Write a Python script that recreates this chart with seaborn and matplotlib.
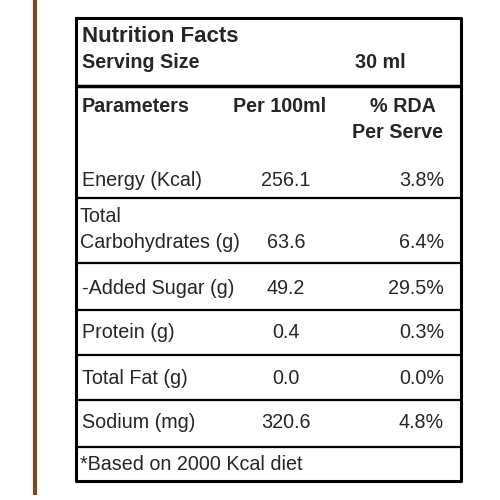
import matplotlib
matplotlib.use("Agg")
import matplotlib.pyplot as plt
import seaborn as sns

sns.set_style("white")
plt.rcParams['font.family'] = ['Liberation Sans', 'DejaVu Sans']

# 表格数据
params = ["Energy (Kcal)", "Total\nCarbohydrates (g)", "-Added Sugar (g)",
          "Protein (g)", "Total Fat (g)", "Sodium (mg)"]
per_100ml = ["256.1", "63.6", "49.2", "0.4", "0.0", "320.6"]
rda_per_serve = ["3.8%", "6.4%", "29.5%", "0.3%", "0.0%", "4.8%"]
row_y = [180, 242, 289, 332, 378, 422]
sep_y = [198, 263, 310, 355, 400, 447]

fig = plt.figure(figsize=(5, 5), dpi=100)
ax = fig.add_axes([0, 0, 1, 1])
ax.set_xlim(0, 500)
ax.set_ylim(500, 0)
ax.axis("off")

# 左侧棕色竖线
ax.vlines(35, 0, 495, color="#7a4a1e", lw=3)

# 外框
ax.plot([76, 461, 461, 76, 76], [18, 18, 481, 481, 18], color="black", lw=2.2)
ax.hlines(86, 76, 461, color="black", lw=2.5)
for y in sep_y:
    ax.hlines(y, 76, 461, color="black", lw=1.6)

fs = 14.2
ax.text(82, 36, "Nutrition Facts", fontsize=16, weight="bold", va="center")
ax.text(82, 62, "Serving Size", fontsize=fs, weight="bold", va="center")
ax.text(355, 62, "30 ml", fontsize=fs, weight="bold", va="center")
ax.text(82, 107, "Parameters", fontsize=fs, weight="bold", va="center")
ax.text(280, 107, "Per 100ml", fontsize=fs, weight="bold", va="center", ha="center")
ax.text(403, 107, "% RDA", fontsize=fs, weight="bold", va="center", ha="center")
ax.text(398, 133, "Per Serve", fontsize=fs, weight="bold", va="center", ha="center")

for name, v, r, y in zip(params, per_100ml, rda_per_serve, row_y):
    if "\n" in name:
        top, bottom = name.split("\n")
        ax.text(80, y - 25, top, fontsize=fs, va="center")
        ax.text(80, y, bottom, fontsize=fs, va="center")
    else:
        ax.text(82, y, name, fontsize=fs, va="center")
    ax.text(286, y, v, fontsize=fs, va="center", ha="center")
    ax.text(444, y, r, fontsize=fs, va="center", ha="right")

ax.text(80, 465, "*Based on 2000 Kcal diet", fontsize=fs, va="center")

fig.savefig("out.png", dpi=100)
